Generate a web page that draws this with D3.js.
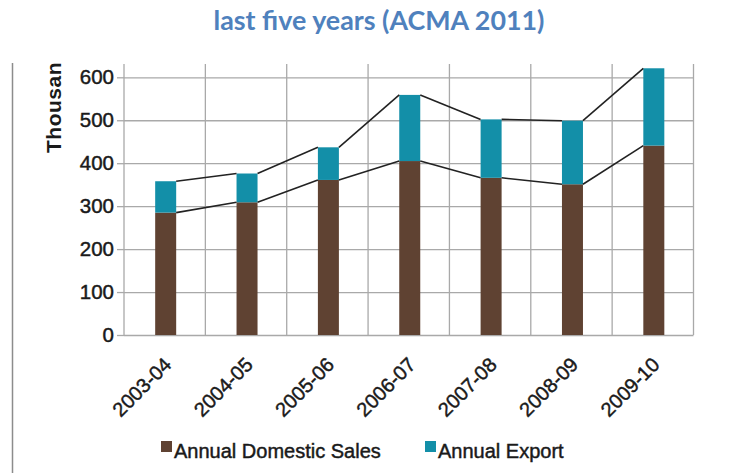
<!DOCTYPE html>
<html>
<head>
<meta charset="utf-8">
<script src="https://cdn.jsdelivr.net/npm/d3@7"></script>
<style>
  html, body { margin: 0; padding: 0; background: #fff; }
  svg { display: block; }
</style>
</head>
<body>
<svg id="chart" width="747" height="473"></svg>
<script>
// Motorcycle sales, thousands of units per financial year
const years = ["2003-04", "2004-05", "2005-06", "2006-07", "2007-08", "2008-09", "2009-10"];
const domesticSales = [285, 309, 361, 405, 366, 351, 441];
const exportSales = [73, 67, 76, 154, 136, 148, 180];
const yTicks = [0, 100, 200, 300, 400, 500, 600];
const seriesNames = ["Annual Domestic Sales", "Annual Export"];
const seriesColors = ["#5f4232", "#138fa8"];

const svg = d3.select("#chart");
const labelFont = "'Liberation Sans', Arial, Helvetica, sans-serif";
const ink = "#1a1a1a";
// slightly heavier strokes on the chart lettering
const heavy = sel => sel.attr("fill", ink).attr("stroke", ink).attr("stroke-width", 0.45);

// Heading
const title = svg.append("text")
  .attr("x", 379).attr("y", 30)
  .attr("text-anchor", "middle")
  .attr("font-family", "Lato, 'Open Sans', sans-serif")
  .attr("font-weight", "bold")
  .attr("font-size", 24)
  .attr("fill", "#4f81bd")
  .text("last five years (ACMA 2011)");
// fit the heading to its column width
const tw = title.node().getComputedTextLength();
title.attr("font-size", 24 * 331 / tw);

// Chart panel (the figure is cut off at its top edge)
svg.append("clipPath").attr("id", "panel")
  .append("rect").attr("x", 0).attr("y", 63).attr("width", 747).attr("height", 410);
const g = svg.append("g").attr("clip-path", "url(#panel)");

// panel frame on the left
g.append("line")
  .attr("x1", 12.5).attr("x2", 12.5).attr("y1", 63).attr("y2", 473)
  .attr("stroke", "#8c8c8c").attr("stroke-width", 1.5);

const x = d3.scaleBand().domain(years).range([124, 693.5]).padding(0);
const y = d3.scaleLinear().domain([0, 600]).range([335, 77.3]);
const barW = 21;
const gridTop = 64;
const gridColor = "#a9a9a9";

// horizontal grid + ticks
g.append("g")
  .attr("transform", "translate(124,0)")
  .call(d3.axisLeft(y).tickValues(yTicks).tickSize(7).tickPadding(3).tickFormat(d3.format("d")))
  .call(a => a.select(".domain").remove())
  .call(a => a.selectAll(".tick line").attr("stroke", gridColor).attr("stroke-width", 1.3))
  .call(a => a.selectAll(".tick").append("line")
      .attr("x1", 0).attr("x2", 693.5 - 124)
      .attr("stroke", gridColor).attr("stroke-width", 1.3))
  .call(a => a.selectAll(".tick text")
      .attr("font-family", labelFont).attr("font-size", 20.5)
      .call(heavy));

// vertical grid at band edges
const edges = years.map(d => x(d)).concat([x(years[years.length - 1]) + x.bandwidth()]);
g.append("g").selectAll("line").data(edges).join("line")
  .attr("x1", d => d).attr("x2", d => d)
  .attr("y1", gridTop).attr("y2", y(0))
  .attr("stroke", gridColor).attr("stroke-width", 1.3);

// stacked bars
const rows = years.map((yr, i) => ({ year: yr, domestic: domesticSales[i], exp: exportSales[i] }));
const stack = d3.stack().keys(["domestic", "exp"])(rows);
const cx = d => x(d) + x.bandwidth() / 2 + 1;

g.append("g").selectAll("g").data(stack).join("g")
  .attr("fill", (d, i) => seriesColors[i])
  .selectAll("rect").data(d => d).join("rect")
    .attr("x", d => cx(d.data.year) - barW / 2)
    .attr("width", barW)
    .attr("y", d => y(d[1]))
    .attr("height", d => y(d[0]) - y(d[1]));

// connectors between neighbouring bar tops
const link = d3.line();
stack.forEach(layer => {
  for (let i = 0; i < layer.length - 1; i++) {
    const a = layer[i], b = layer[i + 1];
    g.append("path")
      .attr("d", link([[cx(a.data.year) + barW / 2, y(a[1])], [cx(b.data.year) - barW / 2, y(b[1])]]))
      .attr("fill", "none").attr("stroke", "#222").attr("stroke-width", 1.6);
  }
});

// y title (cut off by the panel edge)
g.append("text")
  .attr("transform", "translate(61,153) rotate(-90)")
  .attr("font-family", labelFont).attr("font-weight", "bold").attr("font-size", 21)
  .attr("letter-spacing", 0.5)
  .attr("fill", ink)
  .text("Thousands");

// x labels
g.append("g").selectAll("text").data(years).join("text")
  .attr("transform", d => `translate(${cx(d) + 7},${y(0) + 31}) rotate(-45)`)
  .attr("text-anchor", "end")
  .attr("font-family", labelFont).attr("font-size", 20)
  .call(heavy)
  .text(d => d);

// legend
const legendX = [161, 425];
const lg = g.append("g").selectAll("g").data(seriesNames).join("g")
  .attr("transform", (d, i) => `translate(${legendX[i]},441)`);
lg.append("rect").attr("width", 11).attr("height", 11).attr("fill", (d, i) => seriesColors[i]);
lg.append("text")
  .attr("x", 13).attr("y", 17)
  .attr("font-family", labelFont).attr("font-size", 20)
  .call(heavy)
  .text(d => d);
</script>
</body>
</html>
